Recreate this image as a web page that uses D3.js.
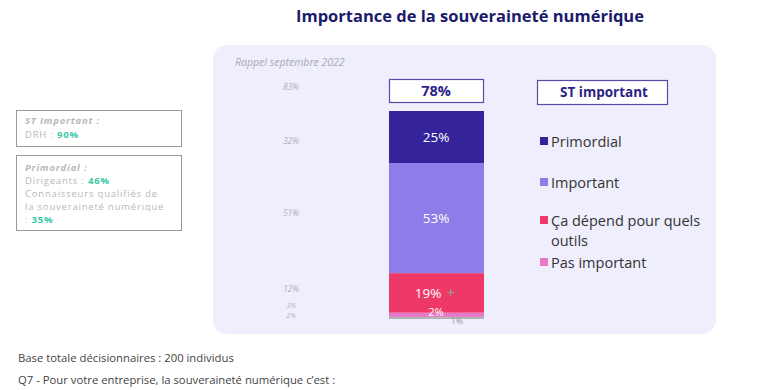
<!DOCTYPE html>
<html><head><meta charset="utf-8">
<script src="https://cdn.jsdelivr.net/npm/d3@7"></script>
<style>
body{margin:0;background:#fff;}
svg{display:block;font-family:"Open Sans",sans-serif;}
</style></head>
<body><svg id="c" width="765" height="390"></svg>
<script>
const categories = ["Primordial","Important","Ça dépend pour quels outils","Pas important","NSP"];
const values = [25,53,19,2,1];
const colors = ["#34239a","#8d7de8","#ee3868","#e878c8","#b4b4b8"];
const valueLabels = ["25%","53%","19%","2%","1%"];
const recallLabels = ["83%","32%","51%","12%","3%","2%"];
const totalLabel = "78%";
const legendLabels = [["Primordial"],["Important"],["Ça dépend pour quels","outils"],["Pas important"]];

const svg = d3.select("#c");

// title
svg.append("text").attr("x",470).attr("y",22).attr("text-anchor","middle")
  .attr("font-size",16.5).attr("font-weight",700).attr("fill","#1b1a6b").text("Importance de la souveraineté numérique");

// panel
svg.append("rect").attr("x",213).attr("y",45).attr("width",503).attr("height",289)
  .attr("rx",14).attr("fill","#efeefd");

svg.append("text").attr("x",235).attr("y",66).attr("font-size",10.5).attr("font-style","italic")
  .attr("fill","#a9a9b8").text("Rappel septembre 2022");

// stacked bar
const y = d3.scaleLinear().domain([0,100]).range([111,319]);
const x = d3.scaleBand().domain(["total"]).range([389,484]);
let cum = 0;
const stack = values.map((v,i)=>{const d={v,i,y0:cum,y1:cum+v};cum+=v;return d;});
svg.selectAll("rect.seg").data(stack).enter().append("rect").attr("class","seg")
  .attr("x",x("total")).attr("width",x.bandwidth())
  .attr("y",d=>y(d.y0)).attr("height",d=>y(d.y1)-y(d.y0))
  .attr("fill",d=>colors[d.i]);

// value labels
const lab = [
  {t:valueLabels[0], yy:(y(0)+y(25))/2+5, x:436, fs:13.5, c:"#fff"},
  {t:valueLabels[1], yy:(y(25)+y(78))/2+5, x:436, fs:13.5, c:"#fff"},
  {t:valueLabels[2], yy:(y(78)+y(97))/2+5, x:428, fs:13.5, c:"#fff"},
  {t:valueLabels[3], yy:y(97)+3, x:436, fs:11, c:"#fff"},
  {t:valueLabels[4], yy:y(100)+5, x:457, fs:9, c:"#999"}
];
svg.selectAll("text.vl").data(lab).enter().append("text").attr("class","vl")
  .attr("x",d=>d.x).attr("y",d=>d.yy).attr("text-anchor","middle")
  .attr("font-size",d=>d.fs).attr("fill",d=>d.c).text(d=>d.t);
// plus sign
svg.append("text").attr("x",451).attr("y",(y(78)+y(97))/2+5).attr("text-anchor","middle")
  .attr("font-size",15).attr("fill","#8aa68a").text("+");

// total box
svg.append("rect").attr("x",389.5).attr("y",79.5).attr("width",94).attr("height",23)
  .attr("fill","#fff").attr("stroke","#5a4aa8").attr("stroke-width",1.2);
svg.append("text").attr("x",436).attr("y",96).attr("text-anchor","middle")
  .attr("font-size",14.5).attr("font-weight",700).attr("fill","#2c1f86").text(totalLabel);

// recall labels
const ry = [90,144,216,292,307.5,318];
svg.selectAll("text.rl").data(recallLabels).enter().append("text").attr("class","rl")
  .attr("x",291).attr("y",(d,i)=>ry[i]).attr("text-anchor","middle")
  .attr("font-size",(d,i)=>i>=4?7:8.5).attr("font-style","italic").attr("fill","#b0b0bc").text(d=>d);

// legend header
svg.append("rect").attr("x",537.5).attr("y",80.5).attr("width",130).attr("height",24)
  .attr("fill","#fff").attr("stroke","#5a4aa8").attr("stroke-width",1.2);
svg.append("text").attr("x",604).attr("y",97).attr("text-anchor","middle")
  .attr("font-size",13.5).attr("font-weight",700).attr("fill","#2c1f86").text("ST important");

// legend
const ly = [142,183,221,263];
legendLabels.forEach((ls,i)=>{
  svg.append("rect").attr("x",540).attr("y",ly[i]-5).attr("width",8).attr("height",8).attr("fill",colors[i]);
  ls.forEach((l,j)=>{
    svg.append("text").attr("x",551).attr("y",ly[i]+5+j*20).attr("font-size",14.5)
      .attr("fill","#333").text(l);
  });
});

// left boxes
const fs = 9.5, ls = 0.8;
function t(xx,yy){return svg.append("text").attr("x",xx).attr("y",yy).attr("font-size",fs)
  .attr("letter-spacing",ls).attr("fill","#b8b8b8");}
svg.append("rect").attr("x",16.5).attr("y",110.5).attr("width",165).attr("height",36)
  .attr("fill","#fff").attr("stroke","#999").attr("stroke-width",1);
t(25,124).attr("font-weight",700).attr("font-style","italic").text("ST Important :");
const b1b = t(25,138);
b1b.append("tspan").text("DRH : ");
b1b.append("tspan").attr("font-weight",700).attr("fill","#3ac6a8").text("90%");

svg.append("rect").attr("x",16.5).attr("y",155.5).attr("width",165).attr("height",75)
  .attr("fill","#fff").attr("stroke","#999").attr("stroke-width",1);
t(25,171).attr("font-weight",700).attr("font-style","italic").text("Primordial :");
const t2 = t(25,184);
t2.append("tspan").text("Dirigeants : ");
t2.append("tspan").attr("font-weight",700).attr("fill","#3ac6a8").text("46%");
t(25,197).text("Connaisseurs qualifiés de");
t(25,210).text("la souveraineté numérique");
const t3 = t(25,223);
t3.append("tspan").text(": ");
t3.append("tspan").attr("font-weight",700).attr("fill","#3ac6a8").text("35%");

// footer
svg.append("text").attr("x",18).attr("y",362).attr("font-size",11.3).attr("fill","#444").text("Base totale décisionnaires : 200 individus");
svg.append("text").attr("x",18).attr("y",384).attr("font-size",11.3).attr("fill","#444").text("Q7 - Pour votre entreprise, la souveraineté numérique c’est :");
</script></body></html>
